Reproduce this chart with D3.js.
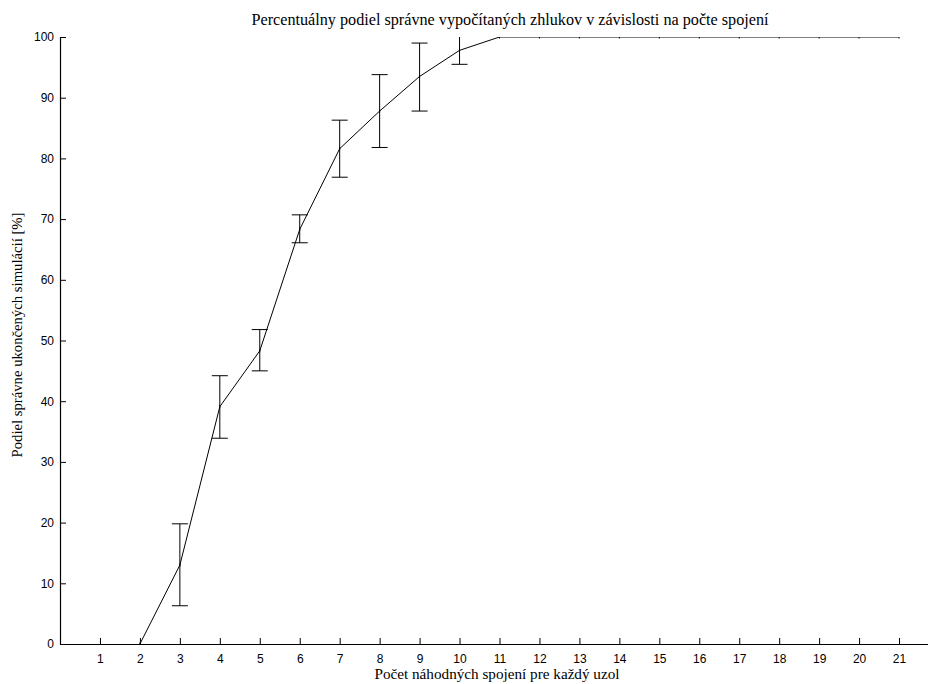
<!DOCTYPE html>
<html>
<head>
<meta charset="utf-8">
<script src="https://cdn.jsdelivr.net/npm/d3@7"></script>
<style>
html,body{margin:0;padding:0;background:#fff;}
svg{display:block;}
</style>
</head>
<body>
<svg id="chart" width="928" height="684"></svg>
<script>
const xValues = [2, 3, 4, 5, 6, 7, 8, 9, 10, 11, 12, 13, 14, 15, 16, 17, 18, 19, 20, 21];
const meanValues = [0, 13.0, 39.1, 48.3, 68.3, 81.6, 87.8, 93.5, 97.8, 100, 100, 100, 100, 100, 100, 100, 100, 100, 100, 100];
const errX = [3, 4, 5, 6, 7, 8, 9, 10];
const errLow = [6.3, 33.9, 45.0, 66.1, 76.9, 81.8, 87.8, 95.5];
const errHigh = [19.8, 44.2, 51.8, 70.7, 86.3, 93.8, 99.0, 100.3];
const xTicks = d3.range(1, 22);
const yTicks = [0, 10, 20, 30, 40, 50, 60, 70, 80, 90, 100];
const titleText = "Percentuálny podiel správne vypočítaných zhlukov v závislosti na počte spojení";
const xLabel = "Počet náhodných spojení pre každý uzol";
const yLabel = "Podiel správne ukončených simulácií [%]";

(function () {
const svg = d3.select("#chart");
const mL = 60, mR = 939, mT = 37, mB = 644;
const x = d3.scaleLinear().domain([0, 22]).range([mL, mR]);
const y = d3.scaleLinear().domain([0, 100]).range([mB, mT]);

svg.append("defs").append("clipPath").attr("id", "clip")
  .append("rect").attr("x", mL).attr("y", mT).attr("width", mR - mL).attr("height", mB - mT);

const xAxis = svg.append("g").attr("transform", `translate(0,${mB})`)
  .call(d3.axisBottom(x).tickValues(xTicks).tickSize(-6).tickSizeOuter(0).tickPadding(4).tickFormat(d3.format("d")));
const yAxis = svg.append("g").attr("transform", `translate(${mL},0)`)
  .call(d3.axisLeft(y).tickValues(yTicks).tickSize(-6).tickSizeOuter(0).tickPadding(6));
[xAxis, yAxis].forEach(g => {
  g.select(".domain").attr("stroke", "#000").attr("stroke-width", 1.2);
  g.selectAll(".tick line").attr("stroke", "#000");
  g.selectAll(".tick text").attr("fill", "#000")
    .style("font-family", "'Liberation Sans', Arial, sans-serif").style("font-size", "12px");
});
xAxis.selectAll(".tick text").attr("y", 10).attr("dy", "0.71em");

const plot = svg.append("g").attr("clip-path", "url(#clip)");

const line = d3.line().x((d, i) => x(xValues[i])).y(d => y(d));
plot.append("path").datum(meanValues).attr("d", line)
  .attr("fill", "none").attr("stroke", "#000").attr("stroke-width", 1);

plot.selectAll(".pt").data(meanValues).enter().append("line")
  .attr("x1", (d, i) => x(xValues[i])).attr("x2", (d, i) => x(xValues[i]))
  .attr("y1", d => y(d) - 1.5).attr("y2", d => y(d) + 1.5)
  .attr("stroke", "#000").attr("stroke-width", 1);

const cap = 8;
const eb = plot.selectAll(".eb").data(errX).enter().append("g");
eb.append("line").attr("x1", d => x(d)).attr("x2", d => x(d))
  .attr("y1", (d, i) => y(errLow[i])).attr("y2", (d, i) => y(errHigh[i]))
  .attr("stroke", "#000").attr("stroke-width", 1);
eb.append("line").attr("x1", d => x(d) - cap).attr("x2", d => x(d) + cap)
  .attr("y1", (d, i) => y(errLow[i])).attr("y2", (d, i) => y(errLow[i]))
  .attr("stroke", "#000").attr("stroke-width", 1);
eb.append("line").attr("x1", d => x(d) - cap).attr("x2", d => x(d) + cap)
  .attr("y1", (d, i) => y(errHigh[i])).attr("y2", (d, i) => y(errHigh[i]))
  .attr("stroke", "#000").attr("stroke-width", 1);

const serif = "'Liberation Serif', 'Times New Roman', serif";
svg.append("text").attr("x", 510).attr("y", 25).attr("text-anchor", "middle")
  .attr("textLength", 517).attr("lengthAdjust", "spacingAndGlyphs")
  .style("font-family", serif).style("font-size", "16px").text(titleText);
svg.append("text").attr("x", 497).attr("y", 679).attr("text-anchor", "middle")
  .attr("textLength", 245).attr("lengthAdjust", "spacingAndGlyphs")
  .style("font-family", serif).style("font-size", "15px").text(xLabel);
svg.append("text").attr("transform", "translate(22,335) rotate(-90)").attr("text-anchor", "middle")
  .attr("textLength", 245).attr("lengthAdjust", "spacingAndGlyphs")
  .style("font-family", serif).style("font-size", "15px").text(yLabel);
})();
</script>
</body>
</html>
